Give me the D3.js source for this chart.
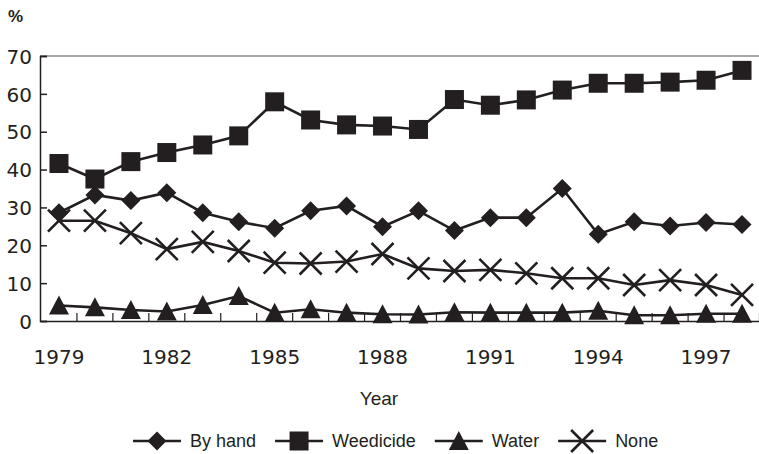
<!DOCTYPE html>
<html>
<head>
<meta charset="utf-8">
<script src="https://cdn.jsdelivr.net/npm/d3@7"></script>
<style>
  body { margin: 0; background: #fff; }
  .word { font-family: "Liberation Sans", Arial, sans-serif; fill: #231f20; }
  .num text { font-family: "DejaVu Sans", sans-serif; font-size: 20px; fill: #231f20; }
</style>
</head>
<body>
<div id="chart"></div>
<script>
"use strict";

// data
var years = ["1979","1980","1981","1982","1983","1984","1985","1986","1987","1988",
             "1989","1990","1991","1992","1993","1994","1995","1996","1997","1998"];
var byHand    = [28.6, 33.3, 31.8, 33.9, 28.6, 26.2, 24.5, 29.1, 30.4, 24.9,
                 29.1, 23.9, 27.3, 27.3, 35.0, 22.9, 26.2, 25.1, 26.0, 25.5];
var weedicide = [41.6, 37.5, 42.1, 44.5, 46.5, 48.9, 57.9, 53.1, 51.8, 51.5,
                 50.6, 58.5, 57.0, 58.4, 61.0, 62.8, 62.8, 63.1, 63.6, 66.2];
var water     = [4.1, 3.6, 2.9, 2.5, 4.2, 6.6, 2.2, 3.1, 2.2, 1.8,
                 1.7, 2.3, 2.2, 2.2, 2.2, 2.7, 1.5, 1.5, 1.9, 1.9];
var none      = [26.5, 26.5, 23.2, 19.0, 20.9, 18.5, 15.4, 15.2, 15.7, 17.7,
                 13.9, 13.2, 13.5, 12.6, 11.3, 11.3, 9.5, 10.8, 9.5, 6.9];
var yTicks = [0, 10, 20, 30, 40, 50, 60, 70];
var xLabels = ["1979","1982","1985","1988","1991","1994","1997"];
var seriesNames = ["By hand", "Weedicide", "Water", "None"];

var W = 759, H = 454;
var plotLeft = 41, plotRight = 760, plotTop = 56, plotBottom = 321;
var ink = "#231f20";

var x = d3.scaleBand().domain(years).range([plotLeft, plotRight]);
var y = d3.scaleLinear().domain([0, 70]).range([plotBottom, plotTop]);
var bw = x.bandwidth();

var svg = d3.select("#chart").append("svg")
  .attr("width", W)
  .attr("height", H);

// gray line along the top of the plot
svg.append("line")
  .attr("x1", plotLeft - 1).attr("x2", plotRight)
  .attr("y1", y(70)).attr("y2", y(70))
  .attr("stroke", "#8a8a8a").attr("stroke-width", 1.5);

// y axis, ticks pointing inward
var yAxis = svg.append("g")
  .attr("class", "num")
  .attr("transform", "translate(" + (plotLeft - 1) + ",0)")
  .call(d3.axisLeft(y).tickValues(yTicks).tickSize(-7).tickPadding(8).tickFormat(d3.format("d")));
yAxis.select(".domain").attr("stroke", ink).attr("stroke-width", 1.5);
yAxis.selectAll(".tick line").attr("stroke", ink).attr("stroke-width", 1.5);
yAxis.selectAll(".tick text").attr("dy", "0.36em");

// x axis labels every 3 years
var xAxis = svg.append("g")
  .attr("class", "num")
  .attr("transform", "translate(0," + plotBottom + ")")
  .call(d3.axisBottom(x).tickValues(xLabels).tickSize(0).tickPadding(29));
xAxis.select(".domain").attr("stroke", ink).attr("stroke-width", 1.5);

// small ticks between the years
svg.append("g").selectAll("line")
  .data(years.slice(1).map(function(d) { return x(d); }).concat([plotRight - 0.5]))
  .enter().append("line")
  .attr("x1", function(d) { return d; }).attr("x2", function(d) { return d; })
  .attr("y1", plotBottom).attr("y2", plotBottom - 8)
  .attr("stroke", ink).attr("stroke-width", 1.2);

// marker shapes
function marker(g, kind) {
  if (kind === "By hand") {
    g.append("path").attr("d", "M0,-9.5L9.5,0L0,9.5L-9.5,0Z").attr("fill", ink);
  } else if (kind === "Weedicide") {
    g.append("rect").attr("x", -9.5).attr("y", -9.5).attr("width", 19).attr("height", 19).attr("fill", ink);
  } else if (kind === "Water") {
    g.append("path").attr("d", "M0,-10L10,9L-10,9Z").attr("fill", ink);
  } else {
    g.append("path").attr("d", "M-11,-11L11,11M-11,11L11,-11")
      .attr("stroke", ink).attr("stroke-width", 2.6).attr("fill", "none");
  }
}

var series = [
  { name: "None", values: none },
  { name: "Water", values: water },
  { name: "By hand", values: byHand },
  { name: "Weedicide", values: weedicide }
];

var line = d3.line()
  .x(function(d, i) { return x(years[i]) + bw / 2; })
  .y(function(d) { return y(d); });

series.forEach(function(s) {
  svg.append("path")
    .datum(s.values)
    .attr("d", line)
    .attr("fill", "none")
    .attr("stroke", ink)
    .attr("stroke-width", 2.6);

  s.values.forEach(function(v, i) {
    var g = svg.append("g")
      .attr("transform", "translate(" + (x(years[i]) + bw / 2) + "," + y(v) + ")");
    marker(g, s.name);
  });
});

// unit label and axis title
svg.append("text").attr("class", "word")
  .attr("x", 8).attr("y", 22)
  .style("font-size", "17px").style("font-weight", "bold")
  .text("%");

svg.append("text").attr("class", "word")
  .attr("x", 379).attr("y", 405)
  .attr("text-anchor", "middle")
  .style("font-size", "19px")
  .text("Year");

// legend
var lx = 133, ly = 441;
seriesNames.forEach(function(name) {
  var g = svg.append("g").attr("transform", "translate(" + lx + "," + ly + ")");
  g.append("line").attr("x1", 0).attr("x2", 48).attr("y1", 0).attr("y2", 0)
    .attr("stroke", ink).attr("stroke-width", 2.6);
  var m = g.append("g").attr("transform", "translate(24,0)");
  marker(m, name);
  var t = g.append("text").attr("class", "word")
    .attr("x", 57).attr("y", 0).attr("dy", "0.35em")
    .style("font-size", "18px")
    .text(name);
  lx += 57 + t.node().getComputedTextLength() + 19;
});
</script>
</body>
</html>
